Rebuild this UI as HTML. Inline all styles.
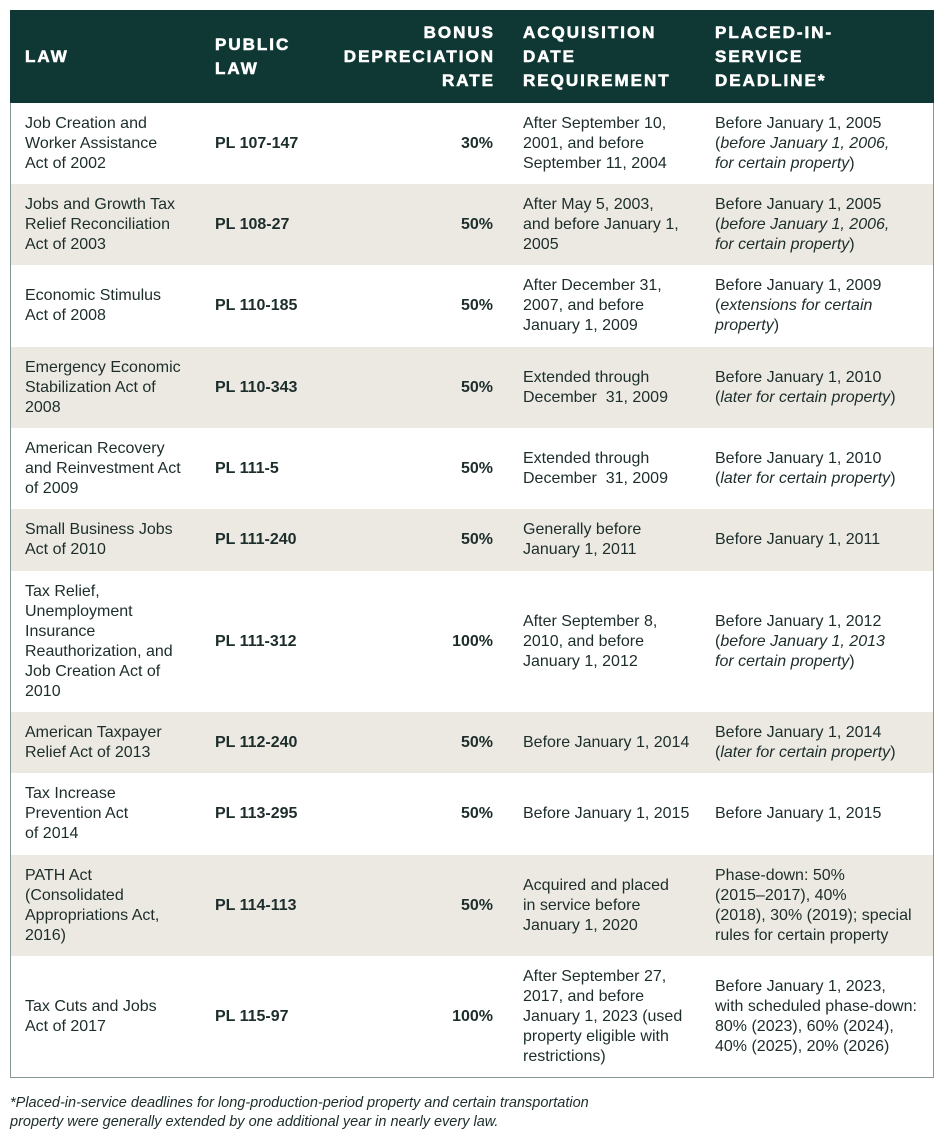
<!DOCTYPE html>
<html>
<head>
<meta charset="utf-8">
<style>
  html, body { margin:0; padding:0; background:#ffffff; }
  body { width:945px; height:1145px; position:relative; overflow:hidden;
         font-family:"Liberation Sans", Arial, sans-serif; color:#1c2d2b; }
  .tbl { position:absolute; left:10px; top:10px; width:922px;
         border-left:1px solid #869695; border-right:1px solid #869695; border-bottom:1px solid #869695; }
  .row { display:flex; align-items:center; width:922px; }
  .hdr { background:#0f3835; color:#ffffff; height:93px; margin:0 -1px; width:924px; }
  .hdr .c { font-weight:bold; font-size:17px; letter-spacing:2px; line-height:24px;
            -webkit-text-stroke:0.6px #ffffff; }
  .hdr .c1 { padding-left:15px; width:175px; }
  .hdr .c2 { width:125px; padding-left:15px; font-weight:bold; }
  .hdr .c3 { width:155px; padding-right:13px; text-align:right; }
  .hdr .c4 { width:177px; padding-left:15px; }
  .hdr .c5 { padding-left:15px; }
  .c { white-space:nowrap; font-size:16px; line-height:20px; }
  .c1 { width:175px; padding-left:14px; }
  .c2 { width:125px; padding-left:15px; font-weight:bold; }
  .c3 { width:153px; padding-right:15px; text-align:right; font-weight:bold; }
  .c4 { width:177px; padding-left:15px; }
  .c5 { padding-left:15px; }
  .b { background:#ece9e2; }
  i { font-style:italic; }
  .foot { position:absolute; left:10px; top:1094px; font-size:14.5px; line-height:19px;
          font-style:italic; color:#1c2d2b; white-space:nowrap; }
</style>
</head>
<body>
<div class="tbl">
  <div class="row hdr">
    <div class="c c1">LAW</div>
    <div class="c c2">PUBLIC<br>LAW</div>
    <div class="c c3">BONUS<br>DEPRECIATION<br>RATE</div>
    <div class="c c4">ACQUISITION<br>DATE<br>REQUIREMENT</div>
    <div class="c c5">PLACED-IN-<br>SERVICE<br>DEADLINE*</div>
  </div>

  <div class="row" style="height:81px">
    <div class="c c1">Job Creation and<br>Worker Assistance<br>Act of 2002</div>
    <div class="c c2">PL 107-147</div>
    <div class="c c3">30%</div>
    <div class="c c4">After September 10,<br>2001, and before<br>September 11, 2004</div>
    <div class="c c5">Before January 1, 2005<br>(<i>before January 1, 2006,</i><br><i>for certain property</i>)</div>
  </div>

  <div class="row b" style="height:81px">
    <div class="c c1">Jobs and Growth Tax<br>Relief Reconciliation<br>Act of 2003</div>
    <div class="c c2">PL 108-27</div>
    <div class="c c3">50%</div>
    <div class="c c4">After May 5, 2003,<br>and before January 1,<br>2005</div>
    <div class="c c5">Before January 1, 2005<br>(<i>before January 1, 2006,</i><br><i>for certain property</i>)</div>
  </div>

  <div class="row" style="height:82px">
    <div class="c c1">Economic Stimulus<br>Act of 2008</div>
    <div class="c c2">PL 110-185</div>
    <div class="c c3">50%</div>
    <div class="c c4">After December 31,<br>2007, and before<br>January 1, 2009</div>
    <div class="c c5">Before January 1, 2009<br>(<i>extensions for certain</i><br><i>property</i>)</div>
  </div>

  <div class="row b" style="height:81px">
    <div class="c c1">Emergency Economic<br>Stabilization Act of<br>2008</div>
    <div class="c c2">PL 110-343</div>
    <div class="c c3">50%</div>
    <div class="c c4">Extended through<br>December&nbsp; 31, 2009</div>
    <div class="c c5">Before January 1, 2010<br>(<i>later for certain property</i>)</div>
  </div>

  <div class="row" style="height:81px">
    <div class="c c1">American Recovery<br>and Reinvestment Act<br>of 2009</div>
    <div class="c c2">PL 111-5</div>
    <div class="c c3">50%</div>
    <div class="c c4">Extended through<br>December&nbsp; 31, 2009</div>
    <div class="c c5">Before January 1, 2010<br>(<i>later for certain property</i>)</div>
  </div>

  <div class="row b" style="height:62px">
    <div class="c c1">Small Business Jobs<br>Act of 2010</div>
    <div class="c c2">PL 111-240</div>
    <div class="c c3">50%</div>
    <div class="c c4">Generally before<br>January 1, 2011</div>
    <div class="c c5">Before January 1, 2011</div>
  </div>

  <div class="row" style="height:141px">
    <div class="c c1">Tax Relief,<br>Unemployment<br>Insurance<br>Reauthorization, and<br>Job Creation Act of<br>2010</div>
    <div class="c c2">PL 111-312</div>
    <div class="c c3">100%</div>
    <div class="c c4">After September 8,<br>2010, and before<br>January 1, 2012</div>
    <div class="c c5">Before January 1, 2012<br>(<i>before January 1, 2013</i><br><i>for certain property</i>)</div>
  </div>

  <div class="row b" style="height:61px">
    <div class="c c1">American Taxpayer<br>Relief Act of 2013</div>
    <div class="c c2">PL 112-240</div>
    <div class="c c3">50%</div>
    <div class="c c4">Before January 1, 2014</div>
    <div class="c c5">Before January 1, 2014<br>(<i>later for certain property</i>)</div>
  </div>

  <div class="row" style="height:82px">
    <div class="c c1">Tax Increase<br>Prevention Act<br>of 2014</div>
    <div class="c c2">PL 113-295</div>
    <div class="c c3">50%</div>
    <div class="c c4">Before January 1, 2015</div>
    <div class="c c5">Before January 1, 2015</div>
  </div>

  <div class="row b" style="height:101px">
    <div class="c c1">PATH Act<br>(Consolidated<br>Appropriations Act,<br>2016)</div>
    <div class="c c2">PL 114-113</div>
    <div class="c c3">50%</div>
    <div class="c c4">Acquired and placed<br>in service before<br>January 1, 2020</div>
    <div class="c c5">Phase-down: 50%<br>(2015–2017), 40%<br>(2018), 30% (2019); special<br>rules for certain property</div>
  </div>

  <div class="row" style="height:121px">
    <div class="c c1">Tax Cuts and Jobs<br>Act of 2017</div>
    <div class="c c2">PL 115-97</div>
    <div class="c c3">100%</div>
    <div class="c c4">After September 27,<br>2017, and before<br>January 1, 2023 (used<br>property eligible with<br>restrictions)</div>
    <div class="c c5">Before January 1, 2023,<br>with scheduled phase-down:<br>80% (2023), 60% (2024),<br>40% (2025), 20% (2026)</div>
  </div>
</div>

<div class="foot">*Placed-in-service deadlines for long-production-period property and certain transportation<br>property were generally extended by one additional year in nearly every law.</div>
</body>
</html>
